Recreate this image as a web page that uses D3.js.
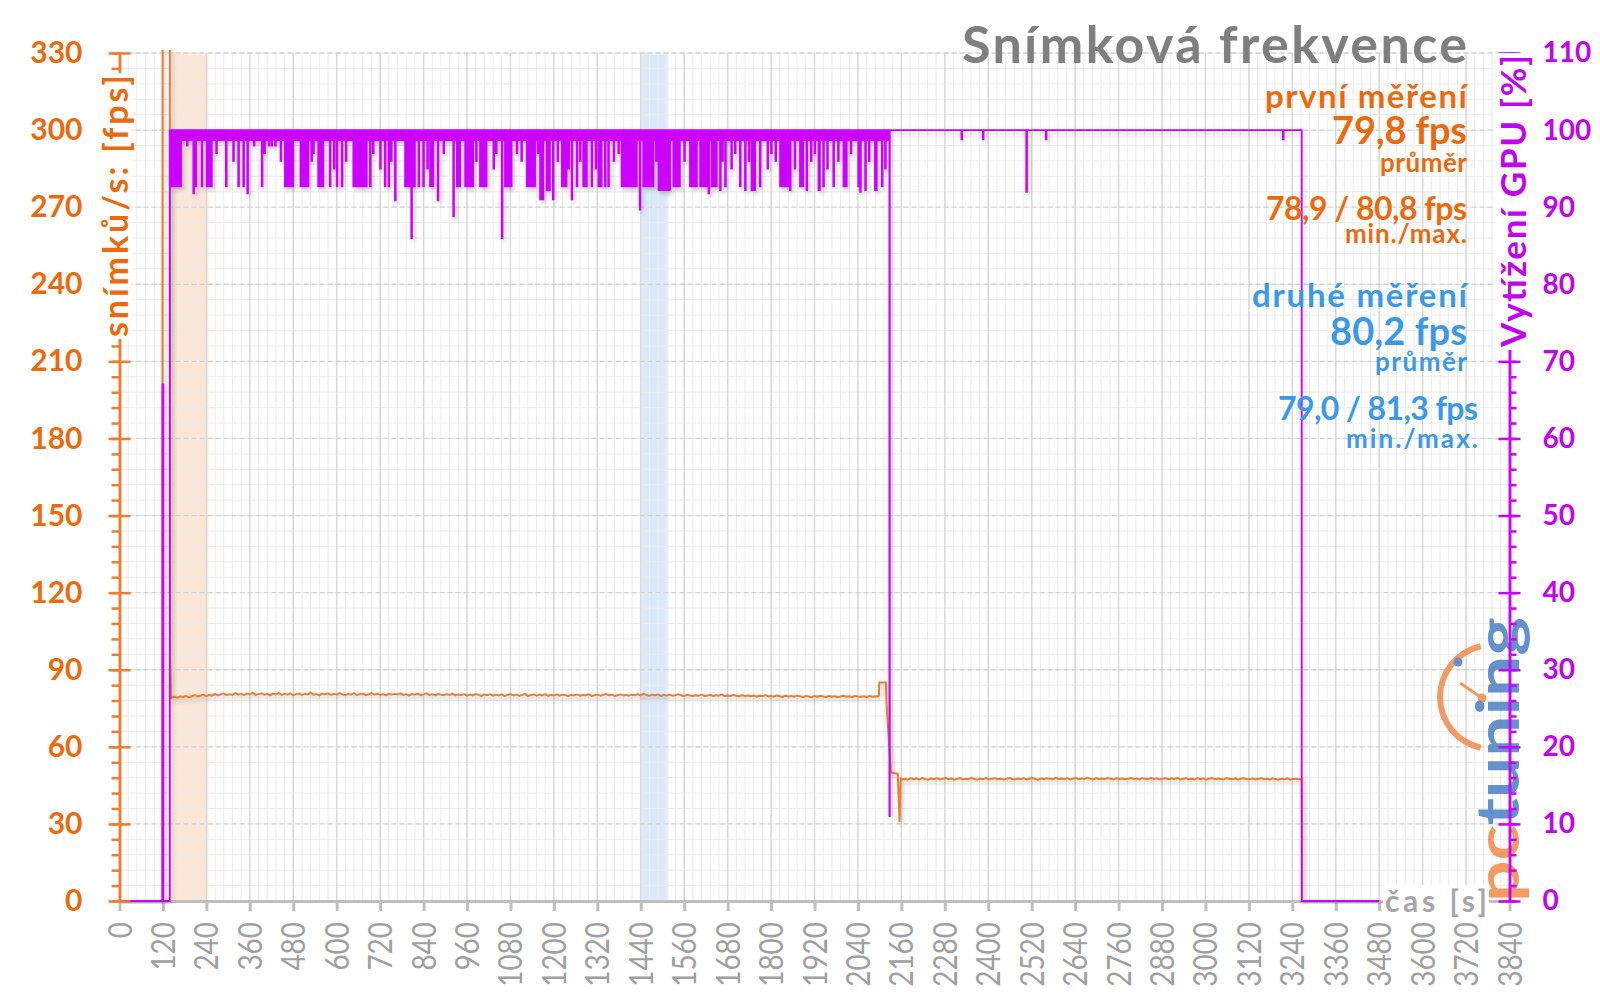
<!DOCTYPE html>
<html>
<head>
<meta charset="utf-8">
<script src="https://cdn.jsdelivr.net/npm/d3@7"></script>
<style>
  body { margin: 0; background: #fff; }
  svg text { font-family: Lato, "Open Sans", sans-serif; }
</style>
</head>
<body>
<svg id="chart" width="1600" height="998"></svg>
<script>
// ---- data ----
const timeTicks = [0, 120, 240, 360, 480, 600, 720, 840, 960, 1080, 1200, 1320, 1440, 1560, 1680, 1800,
  1920, 2040, 2160, 2280, 2400, 2520, 2640, 2760, 2880, 3000, 3120, 3240, 3360, 3480, 3600, 3720, 3840]
const fpsTicks = [0, 30, 60, 90, 120, 150, 180, 210, 240, 270, 300, 330]
const gpuTicks = [0, 10, 20, 30, 40, 50, 60, 70, 80, 90, 100, 110]

// highlighted measuring windows [from, to] in seconds
const firstRunWindow = [142, 245]
const secondRunWindow = [1440, 1515]

// fps: loading spike (goes off the chart), first scene, transition, second scene, end
const fpsLeadIn = [[0, 0], [118, 0], [120, 600], [138, 600], [140, 94], [142, 79]]
const fpsSceneA = [
  79.2, 79.5, 79.1, 79.6, 79.4, 79.8, 79.3, 79.7, 80.1, 79.6, 79.9, 80.3, 79.7, 80.2, 79.9, 80.6, 80.0, 80.4, 80.8, 80.1,
  80.5, 80.2, 80.9, 80.3, 80.6, 80.1, 80.7, 80.4, 81.0, 80.2, 80.5, 80.8, 80.3, 80.6, 80.0, 80.7, 80.4, 80.9, 80.2, 80.6,
  80.3, 80.8, 80.1, 80.5, 80.7, 80.2, 80.6, 80.4, 81.1, 80.3, 80.5, 80.0, 80.7, 80.4, 80.8, 80.2, 80.6, 80.3, 80.9, 80.4,
  80.1, 80.6, 80.3, 80.8, 80.2, 80.5, 80.7, 80.1, 80.4, 80.9, 80.3, 80.6, 80.2, 80.5, 80.0, 80.7, 80.3, 80.6, 80.4, 80.8,
  80.2, 80.5, 79.9, 80.6, 80.3, 80.7, 80.1, 80.4, 80.8, 80.2, 80.5, 80.0, 80.6, 80.3, 80.1, 80.5, 80.2, 80.7, 80.0, 80.4,
  80.1, 80.5, 79.9, 80.3, 80.0, 80.6, 80.2, 79.8, 80.4, 80.1, 80.5, 79.9, 80.3, 80.0, 80.4, 79.7, 80.2, 80.5, 80.0, 80.3,
  79.9, 80.2, 80.6, 79.8, 80.1, 80.4, 79.9, 80.3, 80.0, 80.5, 79.8, 80.2, 80.0, 80.4, 79.9, 80.3, 80.1, 79.7, 80.2, 80.0,
  80.4, 79.9, 80.2, 80.0, 80.5, 79.8, 80.1, 80.3, 79.9, 80.2, 80.6, 80.0, 80.3, 79.8, 80.1, 80.4, 80.0, 80.2, 79.9, 80.3,
  80.1, 80.5, 80.0, 80.7, 80.2, 79.9, 80.3, 80.1, 80.4, 79.8, 80.2, 80.0, 80.3, 79.9, 80.1, 80.5, 80.0, 79.8, 80.2, 80.0,
  79.8, 80.1, 79.9, 80.3, 79.7, 80.0, 80.2, 79.8, 80.1, 79.9, 80.4, 79.7, 80.0, 79.8, 80.2, 79.9, 79.6, 80.1, 79.8, 80.0,
  79.7, 80.0, 79.5, 79.9, 79.7, 80.1, 79.6, 79.8, 79.5, 80.0, 79.7, 79.4, 79.9, 79.6, 79.8, 79.5, 79.9, 79.7, 79.4, 79.8,
  79.6, 79.3, 79.8, 79.5, 79.9, 79.6, 79.4, 79.8, 79.5, 79.7, 79.3, 79.6, 79.9, 79.5, 79.7, 79.4, 79.8, 79.6, 79.5, 79.7,
  79.4, 79.8, 79.5, 79.7, 79.6]
const fpsSceneAStart = 144
const fpsTransition = [[2098, 80], [2099, 85], [2117, 85], [2119, 77], [2131, 50], [2150, 49.5], [2155, 31], [2158, 47.8]]
const fpsSceneB = [
  47.3, 47.6, 47.2, 47.8, 47.4, 47.7, 47.3, 47.9, 47.5, 47.2, 47.7, 47.4, 47.8, 47.3, 47.6, 47.9, 47.4, 47.7, 47.2, 47.6,
  47.8, 47.3, 47.6, 47.4, 48.0, 47.5, 47.2, 47.7, 47.4, 47.9, 47.3, 47.6, 47.8, 47.4, 47.7, 47.2, 47.6, 47.9, 47.5, 47.3,
  47.7, 47.4, 47.8, 47.3, 47.6, 47.9, 47.5, 47.2, 47.7, 47.4, 47.8, 47.6, 47.3, 47.9, 47.5, 47.7, 47.4, 47.8, 47.3, 47.6,
  47.9, 47.4, 47.7, 47.5, 48.0, 47.6, 47.3, 47.8, 47.5, 47.7, 47.4, 47.9, 47.6, 47.3, 47.8, 47.5, 47.7, 47.4, 47.6, 47.9,
  47.5, 47.7, 47.3, 47.8, 47.6, 47.4, 47.9, 47.5, 47.7, 47.3, 47.6, 47.8, 47.4, 47.7, 47.5, 47.9, 47.3, 47.6, 47.8, 47.4,
  47.6, 47.3, 47.8, 47.5, 47.7, 47.2, 47.6, 47.9, 47.4, 47.7, 47.5, 47.3, 47.8, 47.6, 47.4, 47.7, 47.3, 47.6, 47.8, 47.5,
  47.4, 47.7, 47.3, 47.6, 47.8, 47.4, 47.6, 47.3, 47.7, 47.5, 47.2, 47.6, 47.4, 47.7, 47.3, 47.5, 47.6, 47.4, 47.5]
const fpsSceneBStart = 2162
const fpsSampleStep = 8
const fpsTail = [[3267, 0], [3480, 0]]

// GPU load: phases [from s, low %, high %] - low/high is the band the trace jumps within
const gpuPhases = [[0, 0, 0], [119, 0, 67], [121, 0, 0], [139, 98.7, 100], [2127, 11, 100], [2128, 100, 100], [3266, 0, 0], [3480, 0, 0]]
// GPU dips [from s, to s, lowest %]
const gpuDips = [
  [141, 170, 92.7], [186, 188, 98], [204, 206, 91.8], [210, 212, 92.7], [227, 229, 92.7], [241, 255, 92.7], [267, 269, 97],
  [294, 296, 92.7], [314, 316, 96], [328, 330, 92.7], [342, 344, 92.7], [353, 355, 91.8], [371, 373, 98], [393, 395, 92.7],
  [400, 402, 97], [412, 414, 98], [420, 422, 98], [430, 432, 98], [445, 447, 96], [457, 480, 92.7], [500, 522, 92.7],
  [530, 532, 96], [535, 537, 97], [549, 563, 92.7], [581, 583, 92.7], [592, 594, 95], [600, 602, 92.7], [614, 616, 92.7],
  [625, 627, 96], [646, 683, 92.7], [692, 694, 92.7], [700, 702, 97], [720, 722, 95], [733, 735, 92.7], [743, 745, 92.7],
  [750, 752, 96], [761, 763, 90.9], [789, 805, 92.7], [806, 808, 86], [809, 816, 92.7], [826, 828, 92.7], [839, 841, 92.7],
  [850, 852, 95], [858, 867, 92.7], [879, 881, 90.9], [895, 897, 97], [922, 924, 88.8], [932, 941, 92.7], [955, 977, 92.7],
  [985, 987, 96], [996, 1014, 92.7], [1033, 1035, 95], [1040, 1042, 97], [1056, 1058, 86], [1065, 1083, 92.7], [1097, 1099, 97],
  [1110, 1112, 96], [1125, 1148, 92.7], [1155, 1157, 97], [1162, 1171, 91], [1180, 1189, 92.2], [1197, 1199, 91],
  [1210, 1212, 96], [1222, 1235, 92.7], [1240, 1242, 95], [1249, 1251, 91], [1263, 1265, 92.7], [1272, 1274, 96],
  [1281, 1291, 92.7], [1304, 1306, 92.7], [1315, 1317, 95], [1323, 1332, 92.7], [1341, 1343, 92.7], [1350, 1352, 92.7],
  [1365, 1367, 96], [1378, 1380, 97], [1387, 1429, 92.7], [1437, 1439, 89.7], [1447, 1475, 92.7], [1482, 1484, 96],
  [1489, 1521, 92.2], [1530, 1548, 92.7], [1560, 1562, 96], [1576, 1595, 92.7], [1604, 1622, 92.7], [1627, 1629, 91.8],
  [1636, 1650, 92.7], [1659, 1661, 92.2], [1665, 1667, 96], [1673, 1675, 92.7], [1690, 1692, 95], [1700, 1702, 97],
  [1714, 1716, 92.7], [1728, 1730, 92.2], [1738, 1740, 96], [1746, 1756, 92.2], [1769, 1771, 92.7], [1790, 1792, 95],
  [1800, 1802, 97], [1812, 1814, 96], [1825, 1848, 92.7], [1852, 1854, 92.2], [1865, 1867, 95], [1880, 1889, 92.7],
  [1898, 1900, 92.2], [1910, 1912, 96], [1920, 1922, 97], [1931, 1935, 92.2], [1944, 1946, 92.7], [1955, 1957, 95],
  [1972, 1974, 92.7], [1985, 1987, 96], [2000, 2009, 92.7], [2020, 2022, 97], [2041, 2043, 92.7], [2046, 2048, 92],
  [2060, 2062, 92.2], [2070, 2072, 96], [2087, 2092, 92.2], [2106, 2108, 92.7], [2115, 2117, 95],
  [2326, 2328, 98.8], [2385, 2387, 98.8], [2505, 2507, 92], [2559, 2561, 98.8], [3214, 3216, 98.8]]

const titleText = "Snímková frekvence"
const firstRunTexts = ["první měření", "79,8 fps", "průměr", "78,9 / 80,8 fps", "min./max."]
const secondRunTexts = ["druhé měření", "80,2 fps", "průměr", "79,0 / 81,3 fps", "min./max."]
const fpsAxisTitle = "snímků/s: [fps]"
const gpuAxisTitle = "Vytížení GPU [%]"
const timeAxisTitle = "čas [s]"

// ---- colours ----
const orange = "#ed7d31", orangeText = "#eb6a0e", blueText = "#3c98e8"
const purple = "#cc00ff", purpleText = "#c200f2", grey = "#a6a6a6"

const svg = d3.select("#chart")

const x = d3.scaleLinear().domain([0, 3840]).range([119.5, 1509.5])
const yF = d3.scaleLinear().domain([0, 330]).range([901, 53])
const yG = d3.scaleLinear().domain([0, 110]).range([901, 53])
const plotTop = yF(330), plotBottom = yF(0)

const defs = svg.append("defs")
defs.append("clipPath").attr("id", "plot")
  .append("rect").attr("x", x(0)).attr("y", plotTop - 3).attr("width", x(3840) - x(0)).attr("height", plotBottom - plotTop + 6)
defs.append("filter").attr("id", "shadow").attr("x", "-5%").attr("y", "-5%").attr("width", "110%").attr("height", "110%")
  .append("feDropShadow").attr("dx", 2).attr("dy", 3).attr("stdDeviation", 2.2)
  .attr("flood-color", "#000").attr("flood-opacity", 0.22)
defs.append("filter").attr("id", "soft")
  .append("feGaussianBlur").attr("stdDeviation", 1.5)

// measuring windows
svg.append("rect").attr("x", x(firstRunWindow[0])).attr("y", plotTop)
  .attr("width", x(firstRunWindow[1]) - x(firstRunWindow[0])).attr("height", plotBottom - plotTop)
  .attr("fill", "#fbdcc6").attr("opacity", 0.7).attr("filter", "url(#soft)")
svg.append("rect").attr("x", x(secondRunWindow[0])).attr("y", plotTop)
  .attr("width", x(secondRunWindow[1]) - x(secondRunWindow[0])).attr("height", plotBottom - plotTop)
  .attr("fill", "#cfe3f8").attr("opacity", 0.75).attr("filter", "url(#soft)")

// grid
const grid = svg.append("g")
grid.selectAll(".vminor").data(d3.range(0, 3841, 24)).enter().append("line")
  .attr("x1", d => x(d)).attr("x2", d => x(d)).attr("y1", plotTop).attr("y2", plotBottom)
  .attr("stroke", "#ececec").attr("stroke-width", 1)
grid.selectAll(".hminor").data(d3.range(0, 331, 6)).enter().append("line")
  .attr("x1", x(0)).attr("x2", x(3840)).attr("y1", d => yF(d)).attr("y2", d => yF(d))
  .attr("stroke", "#ececec").attr("stroke-width", 1)
grid.selectAll(".vmajor").data(timeTicks).enter().append("line")
  .attr("x1", d => x(d)).attr("x2", d => x(d)).attr("y1", plotTop).attr("y2", plotBottom)
  .attr("stroke", "#d9d9d9").attr("stroke-width", 1.5)
grid.selectAll(".hmajor").data(fpsTicks.slice(1)).enter().append("line")
  .attr("x1", x(0)).attr("x2", x(3840)).attr("y1", d => yF(d)).attr("y2", d => yF(d))
  .attr("stroke", "#d3d3d3").attr("stroke-width", 1.3).attr("stroke-dasharray", "5,3")

// pctuning watermark
const logo = svg.append("g").attr("opacity", 0.85)
logo.append("path")
  .attr("transform", "translate(1492,697)")
  .attr("d", d3.arc().innerRadius(49).outerRadius(55).startAngle(Math.PI + 0.22).endAngle(2 * Math.PI - 0.22)())
  .attr("fill", "#f08a4b")
logo.append("line").attr("x1", 1460).attr("y1", 683).attr("x2", 1482).attr("y2", 698)
  .attr("stroke", "#f08a4b").attr("stroke-width", 3)
logo.append("circle").attr("cx", 1482).attr("cy", 698).attr("r", 4.5).attr("fill", "#f08a4b")
logo.append("circle").attr("cx", 1458).attr("cy", 662).attr("r", 4.5).attr("fill", "#4a7fc4")
const logoText = logo.append("text").attr("transform", "translate(1519,902) rotate(-90)")
  .attr("font-size", 60).attr("font-weight", "bold")
  .attr("textLength", 285).attr("lengthAdjust", "spacingAndGlyphs")
logoText.append("tspan").attr("fill", "#f08a4b").text("pc")
logoText.append("tspan").attr("fill", "#4a7fc4").text("tuning")

// x axis
const xAxis = svg.append("g").attr("transform", `translate(0,${plotBottom})`)
  .call(d3.axisBottom(x).tickValues(timeTicks).tickSize(10).tickSizeOuter(0).tickFormat(d => String(d)))
xAxis.select(".domain").attr("stroke", "#bfbfbf").attr("stroke-width", 3)
xAxis.selectAll(".tick line").attr("stroke", "#bfbfbf").attr("stroke-width", 3)
xAxis.selectAll(".tick text")
  .attr("transform", "rotate(-90)").attr("x", -21).attr("y", 0).attr("dy", "0.36em")
  .attr("text-anchor", "end").attr("fill", "#a0a0a0")
  .attr("textLength", d => String(d).length * 16.2).attr("lengthAdjust", "spacingAndGlyphs")
  .style("font-size", "32px").style("font-weight", "normal")

// series
const series = svg.append("g").attr("clip-path", "url(#plot)")

const fpsPoints = fpsLeadIn.map(d => ({ t: d[0], v: d[1] }))
  .concat(fpsSceneA.map((v, i) => ({ t: fpsSceneAStart + i * fpsSampleStep, v: v })))
  .concat(fpsTransition.map(d => ({ t: d[0], v: d[1] })))
  .concat(fpsSceneB.map((v, i) => ({ t: fpsSceneBStart + i * fpsSampleStep, v: v })))
  .concat(fpsTail.map(d => ({ t: d[0], v: d[1] })))

series.append("path")
  .datum(fpsPoints)
  .attr("fill", "none")
  .attr("stroke", orange)
  .attr("stroke-width", 2)
  .attr("stroke-linejoin", "round")
  .attr("filter", "url(#shadow)")
  .attr("d", d3.line().x(d => x(d.t)).y(d => yF(d.v)))

// gpu: phases plus dips, drawn as a step band between low and high
function phaseAt(t) {
  let p = gpuPhases[0]
  gpuPhases.forEach(q => { if (q[0] <= t) p = q })
  return p
}
const gpuSteps = gpuPhases.map(p => ({ t: p[0], lo: p[1], hi: p[2] }))
gpuDips.forEach(d => {
  const base = phaseAt(d[0])
  gpuSteps.push({ t: d[0], lo: d[2], hi: 100 })
  gpuSteps.push({ t: d[1], lo: base[1], hi: base[2] })
})
gpuSteps.sort((a, b) => a.t - b.t)

series.append("path")
  .datum(gpuSteps)
  .attr("fill", purple)
  .attr("stroke", purple)
  .attr("stroke-width", 1.8)
  .attr("filter", "url(#shadow)")
  .attr("d", d3.area().curve(d3.curveStepAfter)
    .x(d => x(d.t)).y0(d => yG(d.lo)).y1(d => yG(d.hi)))

// left axis (fps)
const leftAxis = svg.append("g").attr("transform", `translate(${x(0)},0)`)
leftAxis.append("g").call(d3.axisLeft(yF).tickValues(d3.range(0, 331, 6)).tickSize(8).tickSizeOuter(0).tickFormat(""))
leftAxis.append("g").attr("class", "major").call(d3.axisLeft(yF).tickValues(fpsTicks).tickSize(11).tickSizeOuter(0).tickPadding(26))
leftAxis.selectAll(".domain").attr("stroke", orange).attr("stroke-width", 2.5)
leftAxis.selectAll(".tick line").attr("stroke", orange).attr("stroke-width", 2.5)
leftAxis.selectAll(".tick text").attr("fill", orangeText)
  .style("font-size", "30px").style("font-weight", "bold")
leftAxis.select(".major").selectAll(".tick line").attr("x1", 11)

// right axis (gpu)
const rightAxis = svg.append("g").attr("transform", `translate(${x(3840)},0)`)
rightAxis.append("g").call(d3.axisRight(yG).tickValues(d3.range(0, 111, 2)).tickSize(7).tickSizeOuter(0).tickFormat(""))
rightAxis.append("g").attr("class", "major").call(d3.axisRight(yG).tickValues(gpuTicks).tickSize(11).tickSizeOuter(0).tickPadding(22))
rightAxis.selectAll(".domain").attr("stroke", purple).attr("stroke-width", 2.5)
rightAxis.selectAll(".tick line").attr("stroke", purple).attr("stroke-width", 2.5)
rightAxis.selectAll(".tick text").attr("fill", purpleText)
  .style("font-size", "28px").style("font-weight", "bold")
rightAxis.select(".major").selectAll(".tick line").attr("x1", -11)

// axis titles sitting on the axis lines, with a white backing
function axisTitle(str, tx, ty, angle, size, len, color, anchor) {
  const g = svg.append("g").attr("transform", `translate(${tx},${ty}) rotate(${angle})`)
  const t = g.append("text").text(str)
    .attr("text-anchor", anchor).attr("dominant-baseline", "central")
    .attr("fill", color).attr("font-size", size).attr("font-weight", "bold")
    .attr("textLength", len).attr("lengthAdjust", "spacing")
  const b = t.node().getBBox()
  g.insert("rect", "text").attr("x", b.x - 2).attr("y", b.y + 3).attr("width", b.width + 4).attr("height", b.height - 6)
    .attr("fill", "#fff")
}
axisTitle(fpsAxisTitle, 114, 206, -90, 34, 262, orangeText, "middle")
axisTitle(gpuAxisTitle, 1512, 201, -90, 35, 292, purpleText, "middle")
axisTitle(timeAxisTitle, 1385, 900, 0, 30, 102, grey, "start")

// title
svg.append("text").attr("x", 1467).attr("y", 63).attr("text-anchor", "end")
  .attr("fill", "#7f7f7f").attr("font-size", 52).attr("font-weight", "bold")
  .attr("textLength", 505).attr("lengthAdjust", "spacing")
  .text(titleText)

// legend blocks
const legendRows = [
  { y: 108, size: 33, len: 202 },
  { y: 144, size: 38, len: 135 },
  { y: 172, size: 26, len: 87 },
  { y: 220, size: 32, len: 201 },
  { y: 243, size: 26, len: 122 }
]
const legendRows2 = [
  { y: 307, size: 33, len: 215, right: 1467 },
  { y: 345, size: 38, len: 137, right: 1467 },
  { y: 371, size: 26, len: 92, right: 1467 },
  { y: 420, size: 32, len: 200, right: 1478 },
  { y: 448, size: 26, len: 132, right: 1478 }
]
firstRunTexts.forEach((s, i) => {
  const r = legendRows[i]
  svg.append("text").attr("x", 1467).attr("y", r.y).attr("text-anchor", "end")
    .attr("fill", orangeText).attr("font-size", r.size).attr("font-weight", "bold")
    .attr("textLength", r.len).attr("lengthAdjust", "spacing").text(s)
})
secondRunTexts.forEach((s, i) => {
  const r = legendRows2[i]
  svg.append("text").attr("x", r.right).attr("y", r.y).attr("text-anchor", "end")
    .attr("fill", blueText).attr("font-size", r.size).attr("font-weight", "bold")
    .attr("textLength", r.len).attr("lengthAdjust", "spacing").text(s)
})
</script>
</body>
</html>
